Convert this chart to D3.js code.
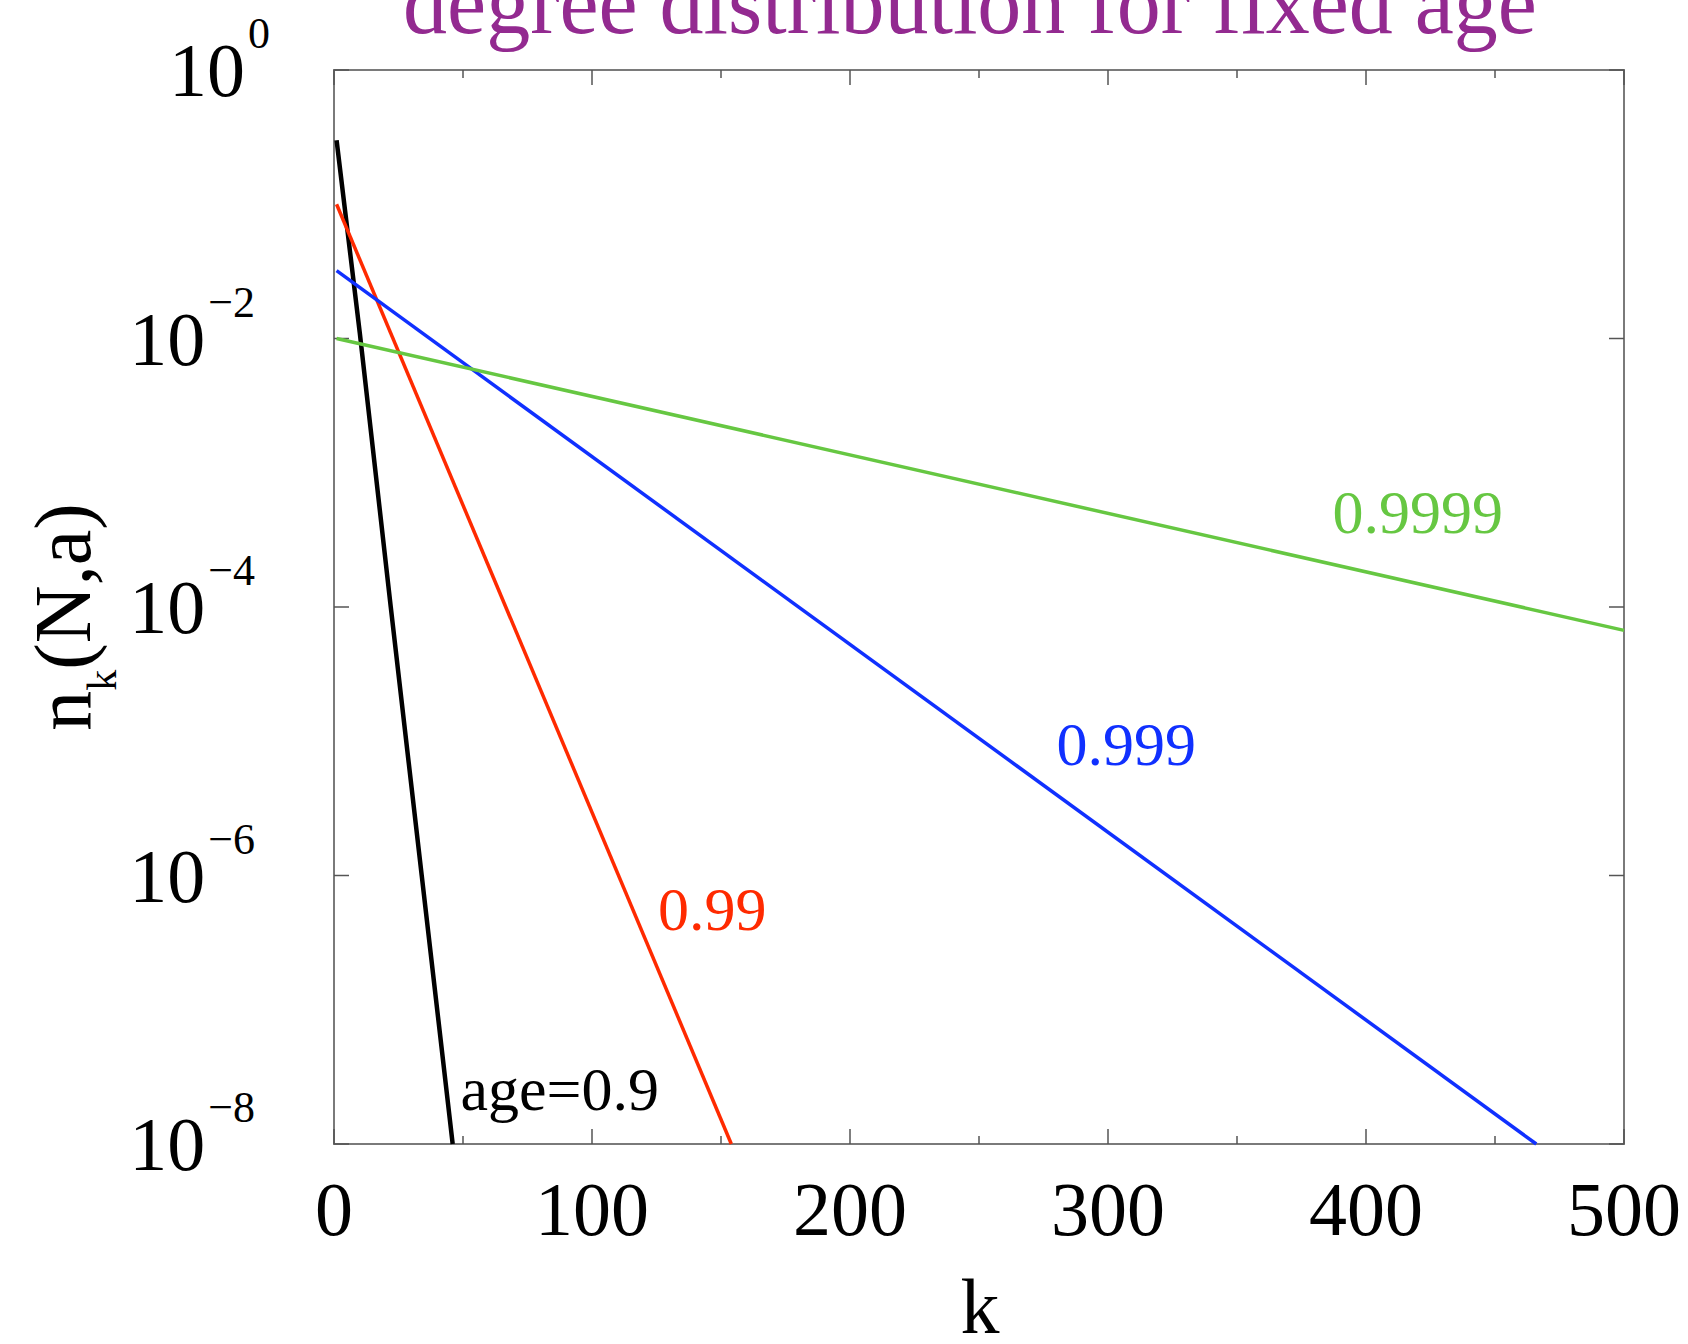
<!DOCTYPE html>
<html>
<head>
<meta charset="utf-8">
<script src="https://cdn.jsdelivr.net/npm/d3@7/dist/d3.min.js"></script>
<style>
  body { margin: 0; background: #fff; }
  text { font-family: "Liberation Serif", "Times New Roman", serif; }
</style>
</head>
<body>
<script>
// values: [k, n_k]
var age09 = [[1, 0.30], [10, 0.011], [22, 1e-4], [34, 1e-6], [46, 1e-8]];
var age099 = [[1, 0.10], [154, 1e-8]];
var age0999 = [[1, 0.032], [466, 1e-8]];
var age09999 = [[1, 0.010], [500, 6.7e-5]];

var seriesNames = ["age=0.9", "0.99", "0.999", "0.9999"];
var seriesColors = ["#000000", "#ff2a00", "#1030ff", "#66c742"];
// label anchor in data coordinates [k, n_k]
var labelAt = [[49, 1.8e-8], [125.6, 3.9e-7], [280, 6.6e-6], [387, 3.56e-4]];

var xTicks = [0, 100, 200, 300, 400, 500];
var xMinor = [50, 150, 250, 350, 450];
var yExp = [0, -2, -4, -6, -8];

var width = 1688, height = 1344;
var plotL = 334, plotR = 1624, plotT = 70, plotB = 1144;

var vis = d3.select("body").append("svg")
    .attr("width", width)
    .attr("height", height);

var scaleX = d3.scaleLinear().domain([0, 500]).range([plotL, plotR]);
var scaleY = d3.scaleLog().domain([1e-8, 1]).range([plotB, plotT]);

// title (cut at the top edge)
vis.append("text")
    .attr("x", 970).attr("y", 33)
    .attr("text-anchor", "middle")
    .attr("font-size", 88)
    .attr("fill", "#932a90")
    .text("degree distribution for fixed age");

// frame
vis.append("rect")
    .attr("x", plotL).attr("y", plotT)
    .attr("width", plotR - plotL).attr("height", plotB - plotT)
    .attr("fill", "none")
    .attr("stroke", "#7a7a7a")
    .attr("stroke-width", 2);

// ticks on all four sides, pointing in
var tickG = vis.append("g").attr("stroke", "#555").attr("stroke-width", 1.5);
xTicks.concat(xMinor).forEach(function(t) {
  var len = xTicks.indexOf(t) >= 0 ? 15 : 8;
  tickG.append("line").attr("x1", scaleX(t)).attr("x2", scaleX(t))
      .attr("y1", plotB).attr("y2", plotB - len);
  tickG.append("line").attr("x1", scaleX(t)).attr("x2", scaleX(t))
      .attr("y1", plotT).attr("y2", plotT + len);
});
yExp.forEach(function(e) {
  var y = scaleY(Math.pow(10, e));
  tickG.append("line").attr("x1", plotL).attr("x2", plotL + 15).attr("y1", y).attr("y2", y);
  tickG.append("line").attr("x1", plotR).attr("x2", plotR - 15).attr("y1", y).attr("y2", y);
});

// x tick labels
vis.selectAll(".xl").data(xTicks).enter().append("text")
    .attr("class", "xl")
    .attr("x", function(d) { return scaleX(d); })
    .attr("y", 1235)
    .attr("text-anchor", "middle")
    .attr("font-size", 76)
    .text(function(d) { return d; });

// y tick labels 10^e
var yl = vis.selectAll(".yl").data(yExp).enter().append("text")
    .attr("class", "yl")
    .attr("x", function(d) { return d == 0 ? 270 : 255; })
    .attr("y", function(d) { return scaleY(Math.pow(10, d)) + 26; })
    .attr("text-anchor", "end")
    .attr("font-size", 76);
yl.append("tspan").text("10");
yl.append("tspan")
    .attr("font-size", 44)
    .attr("dx", 3)
    .attr("dy", -48)
    .text(function(d) { return d < 0 ? "\u2212" + (-d) : "" + d; });

// axis titles
vis.append("text")
    .attr("x", 980).attr("y", 1333)
    .attr("text-anchor", "middle")
    .attr("font-size", 78)
    .text("k");

var yt = vis.append("text")
    .attr("transform", "translate(90,617) rotate(-90)")
    .attr("text-anchor", "middle")
    .attr("font-size", 80);
yt.append("tspan").text("n");
yt.append("tspan").attr("font-size", 42).attr("dy", 26).text("k");
yt.append("tspan").attr("dy", -26).text("(N,a)");

// curves
var line = d3.line()
    .x(function(d) { return scaleX(d[0]); })
    .y(function(d) { return scaleY(d[1]); });

var series = [age09, age099, age0999, age09999];
vis.append("g").selectAll("path").data(series).enter().append("path")
    .attr("d", line)
    .attr("fill", "none")
    .attr("stroke", function(d, i) { return seriesColors[i]; })
    .attr("stroke-width", function(d, i) { return i == 0 ? 4.5 : 3.5; });

vis.append("g").selectAll("text").data(seriesNames).enter().append("text")
    .attr("x", function(d, i) { return scaleX(labelAt[i][0]); })
    .attr("y", function(d, i) { return scaleY(labelAt[i][1]); })
    .attr("font-size", 62)
    .attr("fill", function(d, i) { return seriesColors[i]; })
    .text(function(d) { return d; });
</script>
</body>
</html>
